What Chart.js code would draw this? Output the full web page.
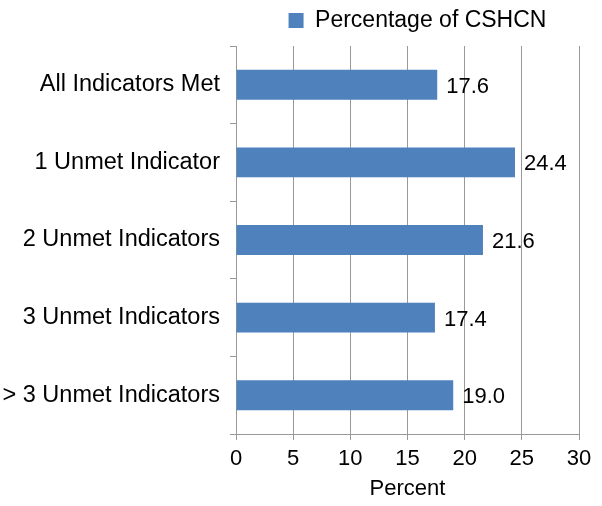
<!DOCTYPE html>
<html>
<head>
<meta charset="utf-8">
<script src="https://cdn.jsdelivr.net/npm/chart.js@4/dist/chart.umd.min.js"></script>
<style>
  html, body { margin: 0; padding: 0; background: #fff; }
  #wrap { width: 602px; height: 506px; }
</style>
</head>
<body>
<div id="wrap"><canvas id="c" width="602" height="506"></canvas></div>
<script>
const categories = ["All Indicators Met", "1 Unmet Indicator", "2 Unmet Indicators", "3 Unmet Indicators", "> 3 Unmet Indicators"];
const seriesName = "Percentage of CSHCN";
const values = [17.6, 24.4, 21.6, 17.4, 19.0];
const xTicks = [0, 5, 10, 15, 20, 25, 30];

const FONT = "'Liberation Sans', Arial, Helvetica, sans-serif";

const valueLabels = {
  id: 'valueLabels',
  afterDatasetsDraw(chart) {
    const ctx = chart.ctx;
    const meta = chart.getDatasetMeta(0);
    ctx.save();
    ctx.font = "22px " + FONT;
    ctx.fillStyle = "#000";
    ctx.textAlign = "left";
    ctx.textBaseline = "middle";
    meta.data.forEach((bar, i) => {
      ctx.fillText(values[i].toFixed(1), bar.x + 9, bar.y + 2);
    });
    ctx.restore();
  }
};

// Give the legend a little extra space below it and nudge it right
const legendTweak = {
  id: 'legendTweak',
  afterInit(chart) {
    const lg = chart.legend;
    if (!lg) return;
    const origFit = lg.fit.bind(lg);
    lg.fit = function () { origFit(); this.height += 4; };
    const origDraw = lg.draw.bind(lg);
    lg.draw = function () {
      chart.ctx.save();
      chart.ctx.translate(10, 0);
      origDraw();
      chart.ctx.restore();
    };
  }
};

new Chart(document.getElementById('c'), {
  type: 'bar',
  data: {
    labels: categories,
    datasets: [{
      label: seriesName,
      data: values,
      backgroundColor: '#4F81BD',
      borderWidth: 0,
      barPercentage: 0.385,
      categoryPercentage: 1.0
    }]
  },
  options: {
    indexAxis: 'y',
    responsive: false,
    animation: false,
    devicePixelRatio: 1,
    layout: { padding: { top: -6, right: 23, left: 0, bottom: 0 } },
    plugins: {
      legend: {
        display: true,
        position: 'top',
        fullSize: false,
        align: 'center',
        labels: {
          font: { family: FONT, size: 23 },
          color: '#000',
          boxWidth: 15,
          boxHeight: 15,
          padding: 15
        }
      },
      tooltip: { enabled: false }
    },
    scales: {
      x: {
        min: 0,
        max: 30,
        afterBuildTicks(scale) { scale.ticks = xTicks.map(v => ({ value: v })); },
        afterFit(scale) { scale.height = 72; },
        grid: {
          display: true,
          drawOnChartArea: true,
          color: '#999',
          lineWidth: 1,
          tickLength: 6
        },
        border: { display: true, color: '#999', width: 1 },
        ticks: {
          font: { family: FONT, size: 22 },
          color: '#000',
          padding: 6
        },
        title: {
          display: true,
          text: 'Percent',
          font: { family: FONT, size: 22 },
          color: '#000',
          padding: { top: 0, bottom: 4 }
        }
      },
      y: {
        afterFit(scale) { scale.width = 236; },
        grid: {
          display: true,
          drawOnChartArea: false,
          offset: true,
          color: '#999',
          tickLength: 6
        },
        border: { display: true, color: '#999', width: 1 },
        ticks: {
          font: { family: FONT, size: 23.5 },
          color: '#000',
          padding: 10
        }
      }
    }
  },
  plugins: [valueLabels, legendTweak]
});
</script>
</body>
</html>
